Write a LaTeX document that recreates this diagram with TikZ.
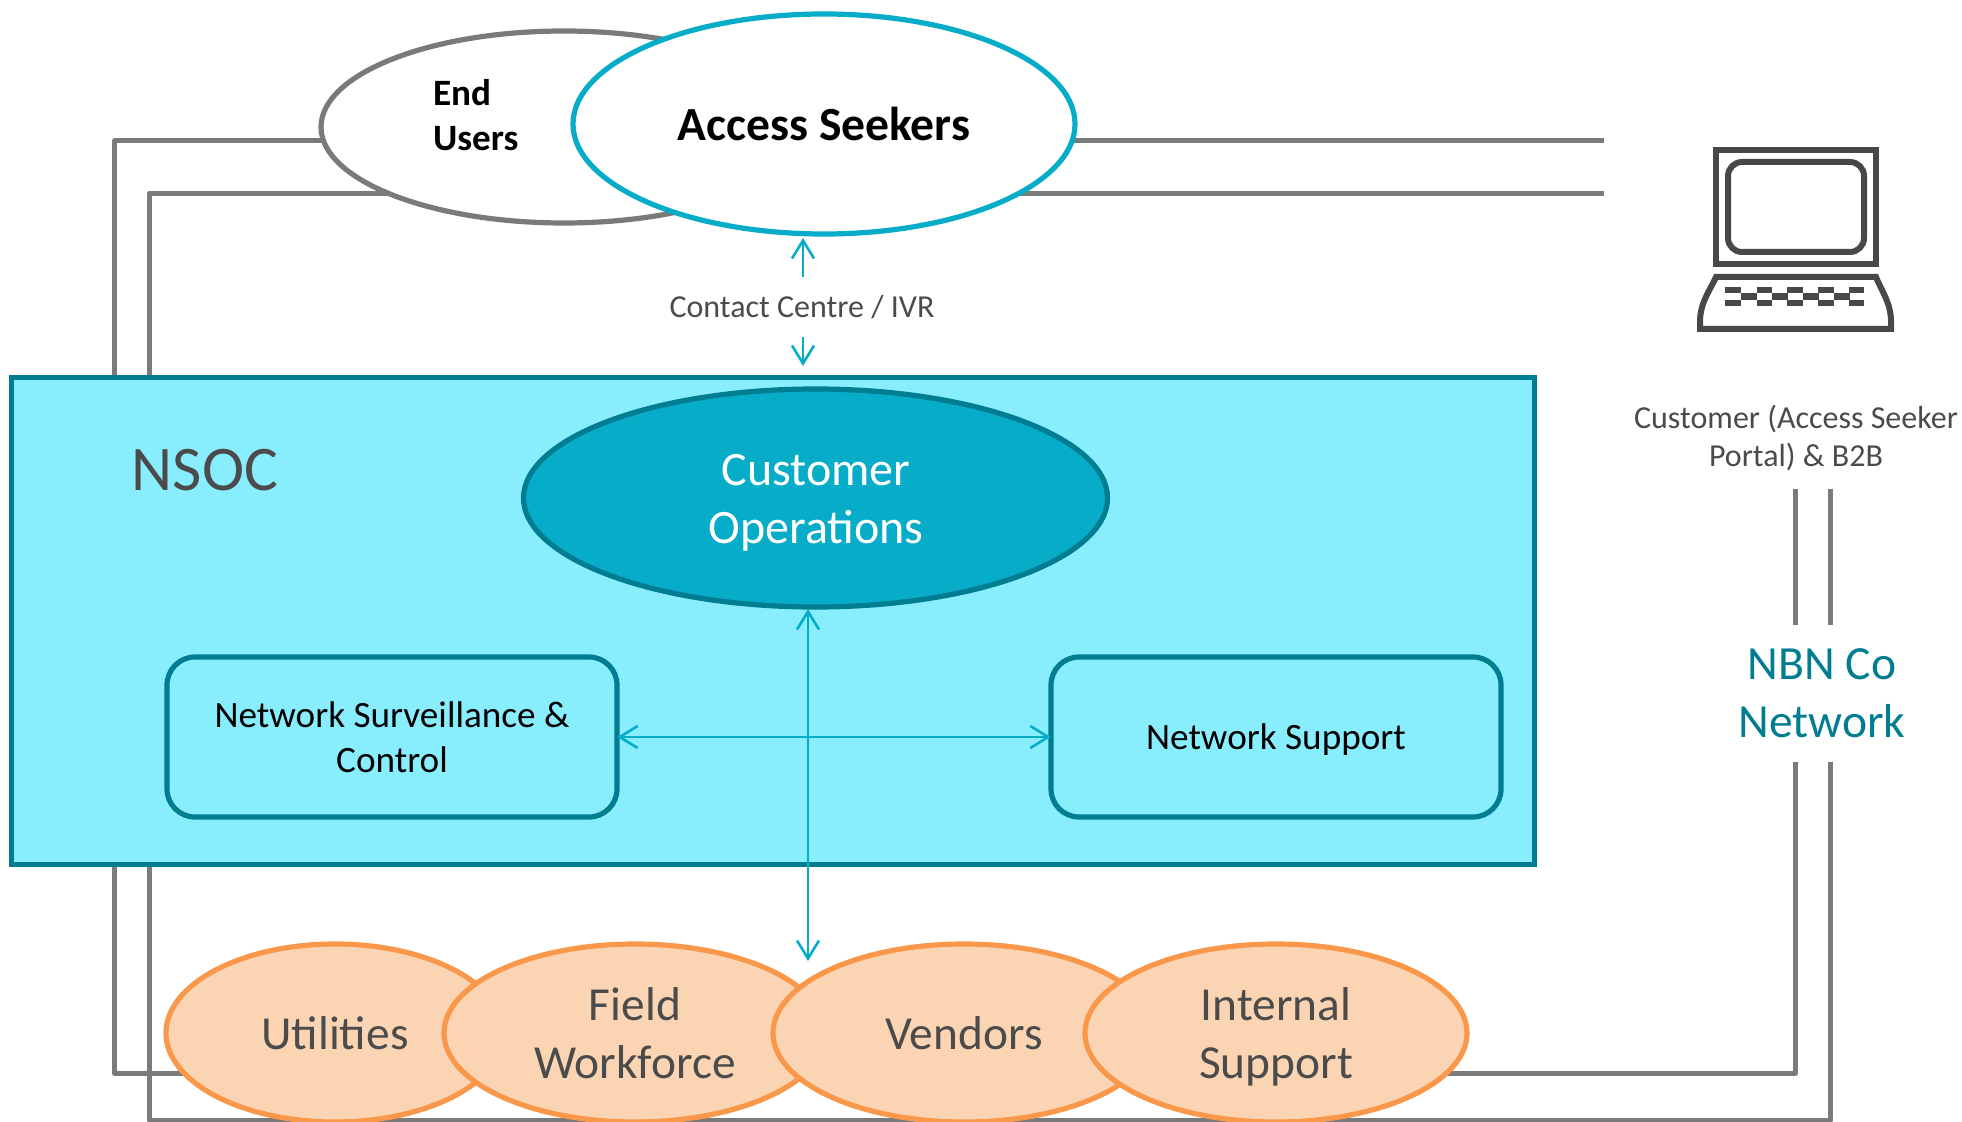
\documentclass[tikz,border=0pt]{standalone}
\usepackage{fontspec}
\setmainfont{Carlito}
\usetikzlibrary{shapes.geometric,arrows.meta}
\definecolor{rectfill}{HTML}{88EEFD}
\definecolor{teal}{HTML}{007D91}
\definecolor{cyanmid}{HTML}{06ACC8}
\definecolor{orangeline}{HTML}{F9984A}
\definecolor{orangefill}{HTML}{FBD4B4}
\definecolor{wire}{HTML}{7A7A7A}
\definecolor{ink}{HTML}{4B4B4B}
\definecolor{icon}{HTML}{484848}
\newdimen\pxu \pxu=0.5pt
\tikzset{
  wireline/.style={draw=wire,line width=2.5pt,line join=round},
  flow/.style={draw=cyanmid,line width=1.3pt,-{Straight Barb[length=9pt,width=11pt,line width=1.3pt]}},
  flowboth/.style={draw=cyanmid,line width=1.3pt,{Straight Barb[length=9pt,width=11pt,line width=1.3pt]}-{Straight Barb[length=9pt,width=11pt,line width=1.3pt]}},
  oval/.style={ellipse,inner sep=0pt,align=center},
  partner/.style={oval,draw=orangeline,fill=orangefill,line width=2.6pt,text=ink,minimum height=178\pxu,font=\fontsize{23.7}{28.8}\selectfont},
  team/.style={draw=teal,fill=rectfill,line width=2.6pt,rounded corners=14pt,minimum width=450\pxu,minimum height=160\pxu,align=center,inner sep=0pt,text=black,font=\fontsize{18.6}{22.5}\selectfont},
  iconline/.style={draw=icon,line width=3pt},
}
\begin{document}
\begin{tikzpicture}[x=0.5pt,y=-0.5pt]
\useasboundingbox (0,0) rectangle (1962,1122);
% free ends of the wires
\coordinate (a1) at (1604,141);
\coordinate (a2) at (114.5,141);
\coordinate (a3) at (114.5,1073);
\coordinate (a4) at (1795.5,1073);
\coordinate (a5) at (1795.5,762);
\coordinate (a6) at (1795.5,625);
\coordinate (a7) at (1795.5,489);
\coordinate (b1) at (1604,194);
\coordinate (b2) at (149,194);
\coordinate (b3) at (149,1120);
\coordinate (b4) at (1830,1120);
\coordinate (b5) at (1830,762);
\coordinate (b6) at (1830,625);
\coordinate (b7) at (1830,489);
\draw[wireline] (a1) -- (a2) -- (a3) -- (a4) -- (a5);
\draw[wireline] (b1) -- (b2) -- (b3) -- (b4) -- (b5);
\draw[wireline] (a6) -- (a7);
\draw[wireline] (b6) -- (b7);
% top ellipses
\node[oval,draw=wire,fill=white,line width=2.6pt,minimum width=486\pxu,minimum height=192\pxu] (endusers) at (564,127) {};
\node[anchor=west,align=left,text=black,font=\fontsize{18.6}{22.5}\selectfont\bfseries] (endlabel) at (426,115) {End\\Users};
\node[oval,draw=cyanmid,fill=white,line width=2.6pt,minimum width=502\pxu,minimum height=220\pxu,text=black,font=\fontsize{23.8}{28}\selectfont\bfseries] (seekers) at (824,124) {Access Seekers};
% NSOC
\node[draw=teal,fill=rectfill,line width=2.5pt,minimum width=1523\pxu,minimum height=486\pxu,inner sep=0pt] (nsoc) at (773,621) {};
\node[text=ink,font=\fontsize{31.8}{36}\selectfont] (nsoclabel) at (205,470) {NSOC};
\node[oval,draw=teal,fill=cyanmid,line width=2.6pt,minimum width=584\pxu,minimum height=218\pxu] (custops) at (815.5,498) {};
\node[text=white,align=center,font=\fontsize{24}{29}\selectfont] (custlabel) at (816,503) {Customer\\Operations};
\node[team] (surv) at (392,737) {Network Surveillance \&\\Control};
\node[team] (supp) at (1276,737) {};
\node[text=black,font=\fontsize{18.6}{22.5}\selectfont] (supplabel) at (1276,740) {Network Support};
% partners
\node[partner,minimum width=338\pxu] (util) at (335,1033) {Utilities};
\node[partner,minimum width=382\pxu] (field) at (635,1033) {Field\\Workforce};
\node[partner,minimum width=382\pxu] (vend) at (964,1033) {Vendors};
\node[partner,minimum width=382\pxu] (internal) at (1276,1033) {};
\node[text=ink,align=center,font=\fontsize{23.7}{28.8}\selectfont] (intlabel) at (1276,1037) {Internal\\Support};
% arrows
\node[text=ink,font=\fontsize{16}{19}\selectfont] (contact) at (802,307) {Contact Centre / IVR};
\coordinate (c1) at (803,277);
\coordinate (c2) at (803,337);
\coordinate (c3) at (803,238);
\coordinate (c4) at (803,366);
\draw[flow] (c1) -- (c3);
\draw[flow] (c2) -- (c4);
\coordinate (d1) at (808,609);
\coordinate (d2) at (808,961);
\draw[flowboth] (d1) -- (d2);
\draw[flowboth,shorten <=-1.2pt,shorten >=-1.2pt] (surv.east) -- (supp.west);
% right labels
\node[text=ink,align=center,font=\fontsize{16}{18.8}\selectfont] (portal) at (1796,438) {Customer (Access Seeker\\Portal) \& B2B};
\node[text=teal,align=center,font=\fontsize{23.8}{28.8}\selectfont] (nbn) at (1822,693) {NBN Co\\Network};
% laptop icon
\draw[iconline] (1716,150) rectangle (1876,264);
\draw[iconline,rounded corners=7pt] (1728,162) rectangle (1864,252);
\draw[iconline,line join=miter] (1716,277) -- (1876,277) .. controls (1882,292) and (1891,303) .. (1891,322) -- (1891,329) -- (1700,329) -- (1700,322) .. controls (1700,303) and (1709,292) .. (1716,277) -- cycle;
\foreach \x in {1725.3,1756.5,1787.3,1818.3,1849}{
  \fill[icon] (\x,287) rectangle ++(15.3,6);
  \fill[icon] (\x,300) rectangle ++(15.3,6);
}
\foreach \x in {1740.6,1771.8,1802.6,1833.6}{
  \fill[icon] (\x,293) rectangle ++(16,7);
}
\end{tikzpicture}
\end{document}
